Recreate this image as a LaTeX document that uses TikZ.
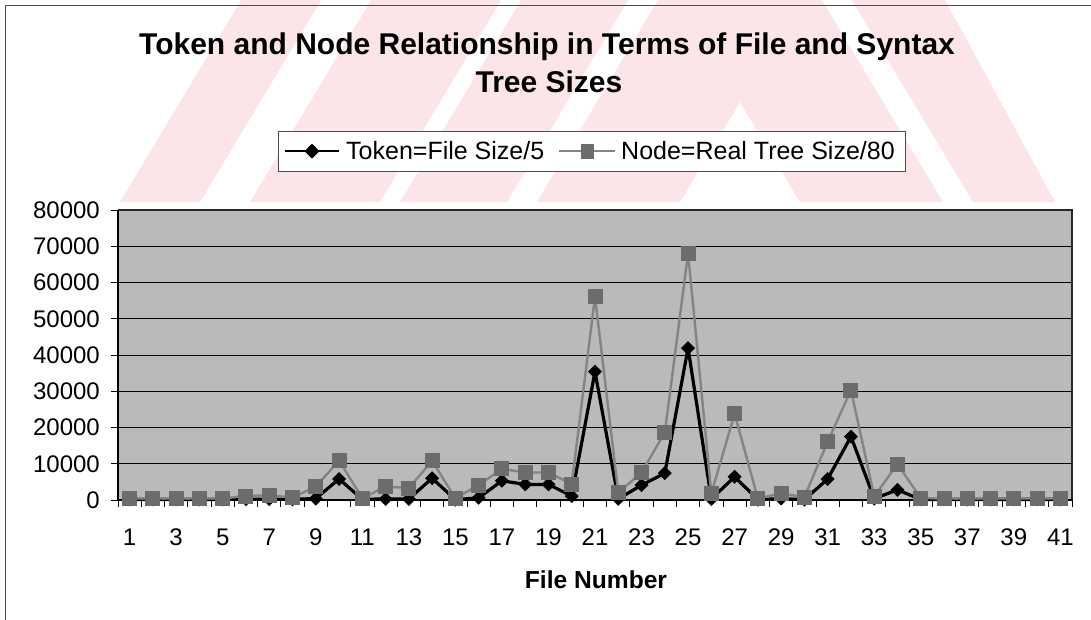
\documentclass[tikz,border=0pt]{standalone}
\usepackage{fontspec}
\setmainfont{Liberation Sans}
\definecolor{wm}{RGB}{252,229,233}
\definecolor{plotbg}{RGB}{186,186,186}
\definecolor{nodeln}{RGB}{132,132,132}
\definecolor{nodemk}{RGB}{108,108,108}
\newcommand\axfont{\fontsize{24}{28}\selectfont}
\newcommand\lgfont{\fontsize{25}{29}\selectfont}
\newcommand\ttlfont{\fontsize{30}{39}\selectfont\bfseries}
\newcommand\xttlfont{\fontsize{24.6}{28}\selectfont\bfseries}
\begin{document}
\begin{tikzpicture}[x=1pt,y=-1pt,
  tokenline/.style={black,line width=3.2pt,line join=round},
  nodeline/.style={nodeln,line width=2.4pt,line join=round},
  tokmark/.style={fill=black},
  nodmark/.style={fill=nodemk},
  gridln/.style={black,line width=1pt},
  axisln/.style={black,line width=1.3pt},
  tickln/.style={black,line width=0.9pt},
  axlabel/.style={font=\axfont,inner sep=0pt}]
\useasboundingbox (0,0) rectangle (1091,619);
\fill[white] (0,0) rectangle (1091,619);
% watermark
\begin{scope}
  \clip (120,202) -- (235,0) -- (945,0) -- (1055,202) -- cycle;
  \foreach \da/\db in {60/203,233/340,360/490,540/620}{
    \fill[wm] ({740-\db},202) -- (740,{202-\db/0.6}) -- ({740+\db},202)
      -- ({740+\da},202) -- (740,{202-\da/0.6}) -- ({740-\da},202) -- cycle;
  }
\end{scope}
% chart border
\draw[black!70,line width=1pt] (5,630) -- (5,5) -- (1100,5);
% title
\node[anchor=base,font=\ttlfont,inner sep=0pt] (title1) at (547,54.5) {Token and Node Relationship in Terms of File and Syntax};
\node[anchor=base,font=\ttlfont,inner sep=0pt] (title2) at (549,92.5) {Tree Sizes};
% legend
\filldraw[fill=white,draw=black!70,line width=1pt] (278,131) rectangle (905,171);
\coordinate (lt1) at (285,151);
\coordinate (lt2) at (339,151);
\coordinate (ltm) at (312,151);
\draw[tokenline,line width=2.6pt] (lt1) -- (lt2);
\fill[tokmark] (ltm) +(0,-7.5) -- +(7.5,0) -- +(0,7.5) -- +(-7.5,0) -- cycle;
\node[anchor=base west,font=\lgfont,inner sep=0pt] (leg1) at (346,159) {Token=File Size/5};
\coordinate (ln1) at (559,151);
\coordinate (ln2) at (615,151);
\coordinate (lnm) at (587,151);
\draw[nodeline,line width=2pt] (ln1) -- (ln2);
\fill[nodmark] (lnm) +(-6.5,-7.5) rectangle +(6.5,7.5);
\node[anchor=base west,font=\lgfont,inner sep=0pt] (leg2) at (621,159) {Node=Real Tree Size/80};
% plot area
\fill[plotbg] (118,210) rectangle (1072,500);
\foreach \v in {1,...,7}
  \draw[gridln] (118,{500-36.25*\v}) -- (1072,{500-36.25*\v});
\draw[black!85,line width=1.2pt] (118,210) -- (1072,210) -- (1072,500);
\draw[axisln] (118,210) -- (118,500) -- (1072,500);
% y axis ticks and labels
\foreach \v in {0,...,8}{
  \draw[tickln] (111,{500-36.25*\v}) -- (118,{500-36.25*\v});
  \node[axlabel,anchor=east] (yl\v) at (100,{500-36.25*\v}) {\ifnum\v=0 0\else\v0000\fi};
}
% x ticks and labels
\foreach \k in {0,...,41}
  \draw[tickln] ({118+\k*23.268},500) -- ({118+\k*23.268},507);
\foreach \i in {1,3,...,41}
  \node[axlabel,anchor=base] (xl\i) at ({118+(\i-0.5)*23.268},545) {\i};
\node[anchor=base,font=\xttlfont,inner sep=0pt] (xtitle) at (596,588) {File Number};
% data (thousands)
\foreach \i/\t/\n in {1/0.15/0.45, 2/0.15/0.45, 3/0.15/0.45, 4/0.15/0.45, 5/0.15/0.45,
  6/0.25/1.1, 7/0.25/1.3, 8/0.2/0.7, 9/0.4/3.7, 10/5.8/10.9, 11/0.2/0.5, 12/0.3/3.7,
  13/0.3/3.3, 14/6.0/10.8, 15/0.1/0.5, 16/0.6/4.1, 17/5.3/8.6, 18/4.3/7.6, 19/4.3/7.6,
  20/1.1/4.4, 21/35.4/56.1, 22/0.3/2.0, 23/4.1/7.6, 24/7.4/18.6, 25/41.9/68.0,
  26/0.3/1.8, 27/6.4/23.8, 28/0.1/0.4, 29/0.4/1.8, 30/0.1/0.8, 31/5.8/16.1,
  32/17.5/30.3, 33/0.4/1.0, 34/2.8/9.9, 35/0.15/0.5, 36/0.15/0.45, 37/0.15/0.45,
  38/0.15/0.45, 39/0.15/0.45, 40/0.15/0.45, 41/0.15/0.45}{
  \coordinate (t\i) at ({118+(\i-0.5)*23.268},{500-\t*3.625});
  \coordinate (n\i) at ({118+(\i-0.5)*23.268},{500-\n*3.625});
}
% token series
\draw[tokenline] (t1) \foreach \i in {2,...,41}{ -- (t\i) };
\foreach \i in {1,...,41}
  \fill[tokmark] (t\i) +(0,-7) -- +(7,0) -- +(0,7) -- +(-7,0) -- cycle;
% node series
\draw[nodeline] (n1) \foreach \i in {2,...,41}{ -- (n\i) };
\foreach \i in {1,...,41}
  \fill[nodmark] (n\i) +(-7.5,-7.5) rectangle +(7.5,7.5);
\end{tikzpicture}
\end{document}
